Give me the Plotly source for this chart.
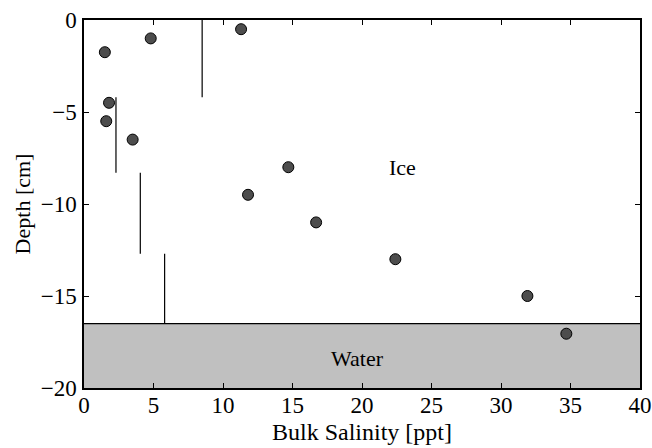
import plotly.graph_objects as go

# Measured bulk salinity points
salinity = [1.5, 4.8, 11.3, 1.8, 1.6, 3.5, 14.7, 11.8, 16.7, 22.4, 31.9, 34.7]
depth = [-1.75, -1.0, -0.5, -4.5, -5.5, -6.5, -8.0, -9.5, -11.0, -13.0, -15.0, -17.05]

# Vertical segment (layer mean) values
seg_sal = [8.5, 2.3, 4.05, 5.8]
seg_top = [0.0, -4.2, -8.3, -12.7]
seg_bot = [-4.2, -8.3, -12.7, -16.5]

water_top = -16.5
x_ticks = [0, 5, 10, 15, 20, 25, 30, 35, 40]
y_ticks = [0, -5, -10, -15, -20]

SERIF = "Liberation Serif"

fig = go.Figure()

# water region
fig.add_shape(type="rect", x0=0, x1=40, y0=-20, y1=water_top,
              fillcolor="#c0c0c0", line=dict(width=0), layer="below")
fig.add_shape(type="line", x0=0, x1=40, y0=water_top, y1=water_top,
              line=dict(color="black", width=1.2))

for s, t, b in zip(seg_sal, seg_top, seg_bot):
    fig.add_trace(go.Scatter(x=[s, s], y=[t, b], mode="lines",
                             line=dict(color="black", width=1.2),
                             showlegend=False, hoverinfo="skip"))

fig.add_trace(go.Scatter(x=salinity, y=depth, mode="markers",
                         marker=dict(size=11, color="#4d4d4d",
                                     line=dict(color="black", width=1)),
                         showlegend=False))

fig.add_annotation(x=22.9, y=-8.0, text="Ice", showarrow=False,
                   font=dict(family=SERIF, size=22, color="black"))
fig.add_annotation(x=19.7, y=-18.4, text="Water", showarrow=False,
                   font=dict(family=SERIF, size=22, color="black"))

axis_common = dict(showline=True, mirror="ticks", linecolor="black", linewidth=1.5,
                   ticks="inside", ticklen=5, tickcolor="black", tickwidth=1,
                   showgrid=False, zeroline=False, automargin=False,
                   tickfont=dict(family=SERIF, size=23, color="black"))

fig.update_xaxes(range=[0, 40], tickvals=x_ticks, ticktext=[str(v) for v in x_ticks],
                 ticklabelstandoff=-4,
                 title=dict(text="Bulk Salinity [ppt]", standoff=6,
                            font=dict(family=SERIF, size=24, color="black")),
                 **axis_common)
fig.update_yaxes(range=[-20, 0], tickvals=y_ticks, ticklabelstandoff=1,
                 title=dict(text="Depth [cm]", standoff=4,
                            font=dict(family=SERIF, size=22, color="black")),
                 **axis_common)

fig.update_layout(width=652, height=448, margin=dict(l=84, r=12, t=20, b=60),
                  autosize=False, plot_bgcolor="white", paper_bgcolor="white",
                  font=dict(family=SERIF, color="black"))

fig.write_html("out.html")
